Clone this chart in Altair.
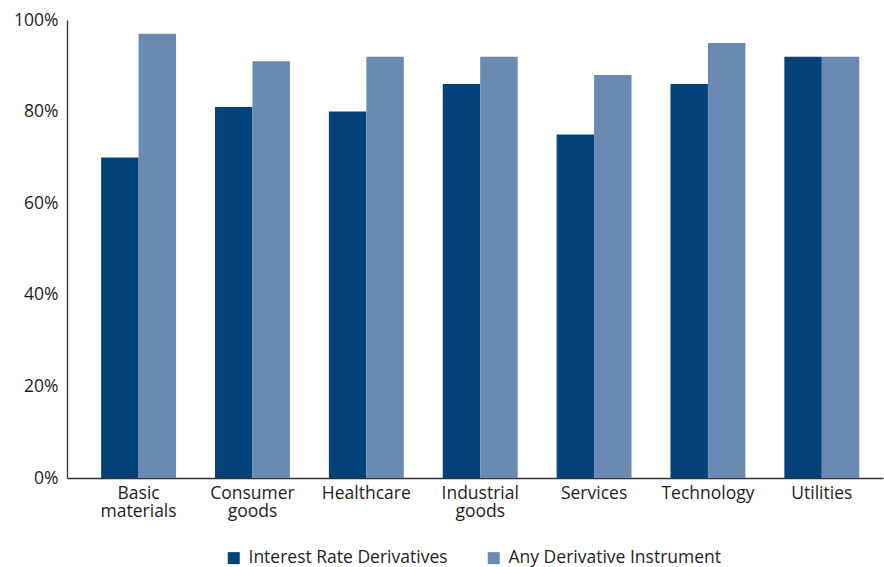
import altair as alt
import pandas as pd

categories = ["Basic materials", "Consumer goods", "Healthcare", "Industrial goods",
              "Services", "Technology", "Utilities"]
series = ["Interest Rate Derivatives", "Any Derivative Instrument"]
interest_rate = [70, 81, 80, 86, 75, 86, 92]
any_derivative = [97, 91, 92, 92, 88, 95, 92]
y_ticks = [0, 20, 40, 60, 80, 100]
colors = ["#03437a", "#6a8ab3"]

rows = []
for c, a, b in zip(categories, interest_rate, any_derivative):
    rows.append({"category": c, "series": series[0], "value": a})
    rows.append({"category": c, "series": series[1], "value": b})
df = pd.DataFrame(rows)

FONT = "Open Sans"
TXT = "#231f20"
FS = 17.5

chart = alt.Chart(df).mark_bar().encode(
    x=alt.X("category:N", sort=categories, title=None,
            scale=alt.Scale(paddingInner=0.342, paddingOuter=0.254, align=0.59),
            axis=alt.Axis(labelAngle=0, ticks=False, labelExpr="split(datum.label, ' ')",
                          labelPadding=6, labelLineHeight=18.5, domainColor="#333333",
                          domainWidth=1.3, labelFontSize=FS)),
    xOffset=alt.XOffset("series:N", sort=series,
                        scale=alt.Scale(paddingInner=0, paddingOuter=0)),
    y=alt.Y("value:Q", title=None, scale=alt.Scale(domain=[0, 100], nice=False),
            axis=alt.Axis(values=y_ticks, labelExpr="datum.value + '%'", ticks=False,
                          grid=False, labelPadding=9, domainColor="#333333",
                          domainWidth=1.3, labelFontSize=FS)),
    color=alt.Color("series:N", sort=series, title=None,
                    scale=alt.Scale(domain=series, range=colors),
                    legend=alt.Legend(orient="none", direction="horizontal",
                                      legendX=158, legendY=529, symbolType="square",
                                      symbolSize=144, symbolStrokeWidth=0,
                                      labelFontSize=FS, labelOffset=6,
                                      columnPadding=37, padding=0,
                                      labelLimit=400)),
).properties(
    width=816, height=458,
    autosize=alt.AutoSizeParams(type="none"),
    padding={"left": 67, "top": 20, "right": 1, "bottom": 89},
).configure_view(stroke=None).configure_axis(
    labelFont=FONT, labelColor=TXT
).configure_legend(
    labelFont=FONT, labelColor=TXT, symbolOpacity=1
)

chart.save("out.html", embed_options={"renderer": "svg", "actions": False})
